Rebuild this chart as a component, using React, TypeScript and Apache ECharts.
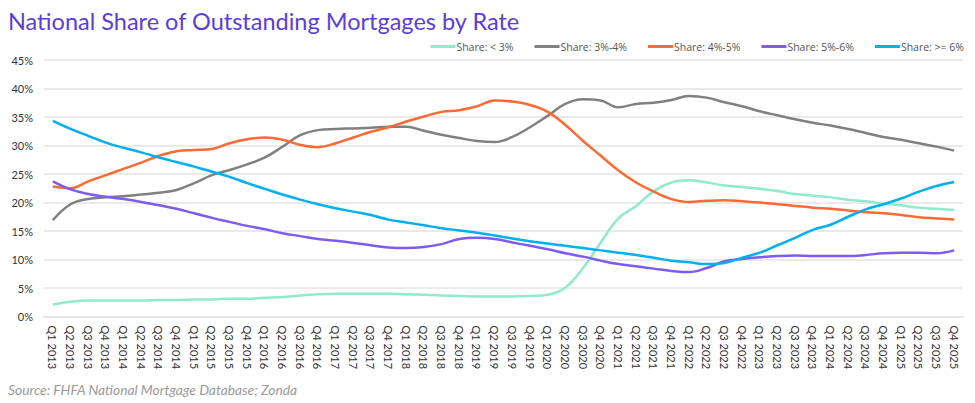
import React, { useEffect, useRef } from "react";
import * as echarts from "echarts";

const years = [2013, 2014, 2015, 2016, 2017, 2018, 2019, 2020, 2021, 2022, 2023, 2024, 2025];
const quarters = ["Q1", "Q2", "Q3", "Q4"];
const categories: string[] = [];
years.forEach((y) => quarters.forEach((q) => categories.push(`${q} ${y}`)));

const seriesNames = ["Share: < 3%", "Share: 3%-4%", "Share: 4%-5%", "Share: 5%-6%", "Share: >= 6%"];
const seriesColors = ["#8FEBCB", "#808080", "#FF6A33", "#7E5CF2", "#00B0F0"];

const shareLt3 = [
  2.1, 2.6, 2.8, 2.8, 2.8, 2.8, 2.9, 2.9, 3.0, 3.0, 3.1, 3.1, 3.3, 3.4, 3.7, 3.9,
  4.0, 4.0, 4.0, 4.0, 3.9, 3.8, 3.7, 3.6, 3.5, 3.5, 3.5, 3.6, 3.8, 5.1, 8.5, 13.0,
  17.2, 19.4, 22.0, 23.5, 23.9, 23.5, 23.0, 22.7, 22.4, 22.0, 21.5, 21.2, 20.9, 20.5,
  20.2, 19.8, 19.5, 19.1, 18.9, 18.7,
];
const share3to4 = [
  16.9, 19.7, 20.6, 20.9, 21.1, 21.4, 21.7, 22.2, 23.4, 24.8, 25.7, 26.7, 27.9, 29.8, 31.8, 32.7,
  32.9, 33.0, 33.1, 33.3, 33.3, 32.6, 31.9, 31.3, 30.8, 30.6, 31.5, 33.2, 35.2, 37.3, 38.1, 37.9,
  36.7, 37.3, 37.5, 38.0, 38.7, 38.4, 37.6, 36.9, 36.0, 35.3, 34.6, 34.0, 33.5, 32.9,
  32.2, 31.5, 31.0, 30.4, 29.8, 29.1,
];
const share4to5 = [
  22.8, 22.5, 23.7, 24.8, 25.9, 27.0, 28.2, 29.0, 29.2, 29.4, 30.4, 31.1, 31.4, 31.0, 30.1, 29.7,
  30.4, 31.4, 32.4, 33.2, 34.2, 35.1, 35.9, 36.2, 36.9, 37.9, 37.7, 37.1, 35.9, 33.6, 30.8, 28.2,
  25.6, 23.5, 21.9, 20.6, 20.1, 20.3, 20.4, 20.2, 20.0, 19.7, 19.4, 19.1, 18.9, 18.6,
  18.3, 18.1, 17.8, 17.4, 17.2, 17.0,
];
const share5to6 = [
  23.7, 22.3, 21.5, 21.0, 20.6, 20.1, 19.5, 18.9, 18.1, 17.3, 16.6, 15.9, 15.3, 14.6, 14.1, 13.6,
  13.3, 12.9, 12.5, 12.1, 12.0, 12.2, 12.7, 13.6, 13.8, 13.6, 13.0, 12.4, 11.8, 11.1, 10.5, 9.8,
  9.2, 8.8, 8.4, 8.0, 7.8, 8.5, 9.7, 10.1, 10.4, 10.6, 10.7, 10.6, 10.6, 10.6,
  10.8, 11.1, 11.2, 11.2, 11.1, 11.6,
];
const shareGe6 = [
  34.3, 32.9, 31.7, 30.5, 29.6, 28.8, 27.9, 27.1, 26.3, 25.4, 24.5, 23.4, 22.4, 21.4, 20.5, 19.7,
  19.0, 18.4, 17.8, 17.0, 16.5, 16.0, 15.5, 15.1, 14.7, 14.2, 13.7, 13.2, 12.8, 12.4, 12.0, 11.6,
  11.2, 10.8, 10.3, 9.8, 9.5, 9.2, 9.4, 10.3, 11.2, 12.5, 13.8, 15.2, 16.1, 17.5,
  18.8, 19.7, 20.7, 21.9, 22.9, 23.6,
];
const seriesData = [shareLt3, share3to4, share4to5, share5to6, shareGe6];

const titleText = "National Share of Outstanding Mortgages by Rate";
const sourceText = "Source: FHFA National Mortgage Database; Zonda";

export default function App() {
  const ref = useRef<HTMLDivElement>(null);
  useEffect(() => {
    document.body.style.margin = "0";
    document.body.style.overflow = "hidden";
    if (!ref.current) return;
    const chart = echarts.init(ref.current, null, { renderer: "svg" });
    const font = "Lato, 'Noto Sans', sans-serif";
    const legendFont = "'Open Sans', Lato, sans-serif";
    chart.setOption({
      animation: false,
      backgroundColor: "#ffffff",
      textStyle: { fontFamily: font },
      title: [
        {
          text: titleText,
          left: 3,
          top: 4,
          textStyle: { color: "#5A3EDC", fontSize: 23.5, fontWeight: "normal", fontFamily: font },
        },
        {
          text: sourceText,
          left: 3,
          top: 377,
          textStyle: { color: "#9a9a9a", fontSize: 13.8, fontStyle: "italic", fontWeight: "normal", fontFamily: font },
        },
      ],
      legend: {
        right: 6,
        top: 36,
        icon: "rect",
        itemWidth: 25,
        itemHeight: 3,
        itemGap: 21,
        textStyle: { color: "#555", fontSize: 10.5, fontFamily: legendFont, padding: [0, 0, 0, -4] },
        data: seriesNames,
      },
      grid: { left: 44, right: 12, top: 60, bottom: 86.5, containLabel: false },
      xAxis: {
        type: "category",
        data: categories,
        boundaryGap: true,
        axisLine: { show: true, lineStyle: { color: "#e6e6e6", width: 2 } },
        axisTick: { show: false },
        axisLabel: { rotate: -90, interval: 0, color: "#333", fontSize: 11, margin: 9, fontFamily: font },
      },
      yAxis: {
        type: "value",
        min: 0,
        max: 45,
        interval: 5,
        axisLine: { show: false },
        axisTick: { show: false },
        axisLabel: { formatter: "{value}%", color: "#333", fontSize: 11, margin: 11, fontFamily: font },
        splitLine: { lineStyle: { color: "#e3e3e3", width: 1.5 } },
      },
      series: seriesNames.map((name, i) => ({
        name,
        type: "line",
        data: seriesData[i],
        smooth: 0.4,
        symbol: "none",
        lineStyle: { color: seriesColors[i], width: 2.5 },
        itemStyle: { color: seriesColors[i] },
      })),
    });
    return () => chart.dispose();
  }, []);
  return <div ref={ref} style={{ width: 975, height: 403 }} />;
}
